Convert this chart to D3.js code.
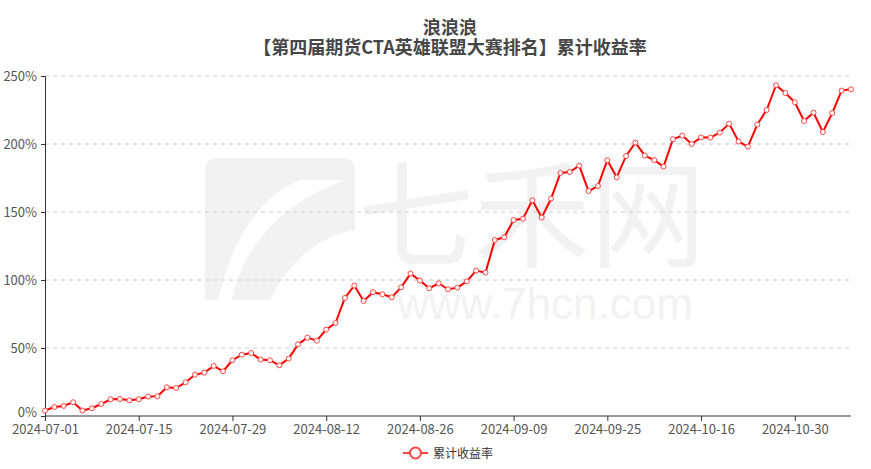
<!DOCTYPE html>
<html><head><meta charset="utf-8">
<script src="https://cdn.jsdelivr.net/npm/d3@7"></script>
<style>
body{margin:0;background:#fff;}
svg{display:block;font-family:"Noto Sans CJK SC","Noto Sans",sans-serif;}
</style></head>
<body><svg id="c" width="871" height="469"></svg>
<script>
const titleLines = ["浪浪浪", "【第四届期货CTA英雄联盟大赛排名】累计收益率"];
const seriesName = "累计收益率";
const dates = [
"2024-07-01","2024-07-02","2024-07-03","2024-07-04","2024-07-05","2024-07-08","2024-07-09","2024-07-10","2024-07-11","2024-07-12",
"2024-07-15","2024-07-16","2024-07-17","2024-07-18","2024-07-19","2024-07-22","2024-07-23","2024-07-24","2024-07-25","2024-07-26",
"2024-07-29","2024-07-30","2024-07-31","2024-08-01","2024-08-02","2024-08-05","2024-08-06","2024-08-07","2024-08-08","2024-08-09",
"2024-08-12","2024-08-13","2024-08-14","2024-08-15","2024-08-16","2024-08-19","2024-08-20","2024-08-21","2024-08-22","2024-08-23",
"2024-08-26","2024-08-27","2024-08-28","2024-08-29","2024-08-30","2024-09-02","2024-09-03","2024-09-04","2024-09-05","2024-09-06",
"2024-09-09","2024-09-10","2024-09-11","2024-09-12","2024-09-13","2024-09-18","2024-09-19","2024-09-20","2024-09-23","2024-09-24",
"2024-09-25","2024-09-26","2024-09-27","2024-09-30","2024-10-08","2024-10-09","2024-10-10","2024-10-11","2024-10-14","2024-10-15",
"2024-10-16","2024-10-17","2024-10-18","2024-10-21","2024-10-22","2024-10-23","2024-10-24","2024-10-25","2024-10-28","2024-10-29",
"2024-10-30","2024-10-31","2024-11-01","2024-11-04","2024-11-05","2024-11-06","2024-11-07"];
const returns = [
4.0,6.6,7.4,10.1,4.0,5.7,8.8,12.3,12.5,11.5,
12.3,14.3,14.5,21.1,20.6,24.8,30.4,31.9,36.8,32.9,
41.0,45.1,46.3,41.5,41.0,37.3,42.2,52.7,57.6,55.4,
63.5,68.4,86.8,95.9,84.6,91.0,89.5,87.3,94.6,104.7,
99.6,93.9,97.6,93.2,94.4,99.0,106.9,105.4,129.4,131.4,
144.1,145.1,158.6,145.9,159.9,178.7,179.4,184.1,165.4,169.1,
188.1,175.5,191.2,201.0,191.5,188.2,183.4,203.5,206.2,200.0,
204.9,204.7,208.4,215.0,201.8,198.1,214.3,225.0,243.2,237.5,
230.7,216.9,223.1,208.8,222.8,239.3,240.2];
const yTicks = [0,50,100,150,200,250];
const xTickEvery = 10;

const svg = d3.select("#c");
const m = {l:45, r:20, t:76, b:53};
const W = 871, H = 469;

// watermark
const wm = svg.append("g").attr("fill","#f2f2f2");
wm.append("path").attr("d","M205,170 Q205,158 220,158 L340,158 Q355,158 355,170 L355,230 Q300,240 270,300 L205,300 Z");
wm.append("path").attr("d","M232,300 Q250,215 345,180 L300,180 Q240,205 218,300 Z").attr("fill","#fff");
wm.append("text").attr("x",532).attr("y",258).attr("text-anchor","middle").attr("font-size",116).text("七禾网");
wm.append("text").attr("x",545).attr("y",319).attr("text-anchor","middle").attr("font-size",44).attr("font-family","Liberation Sans, sans-serif").text("www.7hcn.com");

const x = d3.scalePoint().domain(dates).range([m.l, W - m.r]);
const y = d3.scaleLinear().domain([0,250]).range([H - m.b, m.t]);

// grid
svg.append("g").selectAll("line").data(yTicks.filter(d=>d>0)).join("line")
  .attr("x1", m.l).attr("x2", W - m.r)
  .attr("y1", d=>y(d)).attr("y2", d=>y(d))
  .attr("stroke","#ccc").attr("stroke-dasharray","4,4");

// y axis
const ya = svg.append("g").attr("transform",`translate(${m.l},0)`)
  .call(d3.axisLeft(y).tickValues(yTicks).tickFormat(d=>d+"%").tickSize(4).tickPadding(4));
ya.select(".domain").attr("stroke","#333");
ya.selectAll(".tick line").attr("stroke","#333");
ya.selectAll("text").attr("fill","#555").attr("font-size",13).attr("font-family","Noto Sans CJK SC, sans-serif");
ya.selectAll(".tick").filter(d=>d===0).select("text").attr("dy","0.05em");

// x axis
const xa = svg.append("g").attr("transform",`translate(0,${H - m.b})`)
  .call(d3.axisBottom(x).tickValues(dates.filter((d,i)=>i%xTickEvery===0)).tickSize(5).tickPadding(4));
xa.select(".domain").attr("stroke","#333").attr("d",`M${m.l},0H${W-m.r}`);
xa.selectAll(".tick line").attr("stroke","#333");
xa.selectAll("text").attr("fill","#555").attr("font-size",13).attr("font-family","Noto Sans CJK SC, sans-serif");

// line
const pts = dates.map((d,i)=>({d, v: returns[i]}));
svg.append("path").datum(pts)
  .attr("fill","none").attr("stroke","#f00").attr("stroke-width",2).attr("stroke-linejoin","round")
  .attr("d", d3.line().x(p=>x(p.d)).y(p=>y(p.v)));
svg.append("g").selectAll("circle").data(pts).join("circle")
  .attr("cx",p=>x(p.d)).attr("cy",p=>y(p.v)).attr("r",2.5)
  .attr("fill","#fff").attr("stroke","#f44").attr("stroke-width",1);

// title
titleLines.forEach((s,i)=> svg.append("text").attr("text-anchor","middle").attr("font-weight","bold")
  .attr("font-size",18).attr("fill","#464646").attr("x",450).attr("y",34 + i*20).text(s));

// legend
const lg = svg.append("g").attr("transform","translate(403,453)");
lg.append("line").attr("x1",0).attr("x2",25).attr("stroke","#f44").attr("stroke-width",2);
lg.append("circle").attr("cx",12.5).attr("r",5.5).attr("fill","#fff").attr("stroke","#f44").attr("stroke-width",2);
lg.append("text").attr("x",30).attr("y",4.5).attr("font-size",12).attr("fill","#333").text(seriesName);
</script></body></html>
